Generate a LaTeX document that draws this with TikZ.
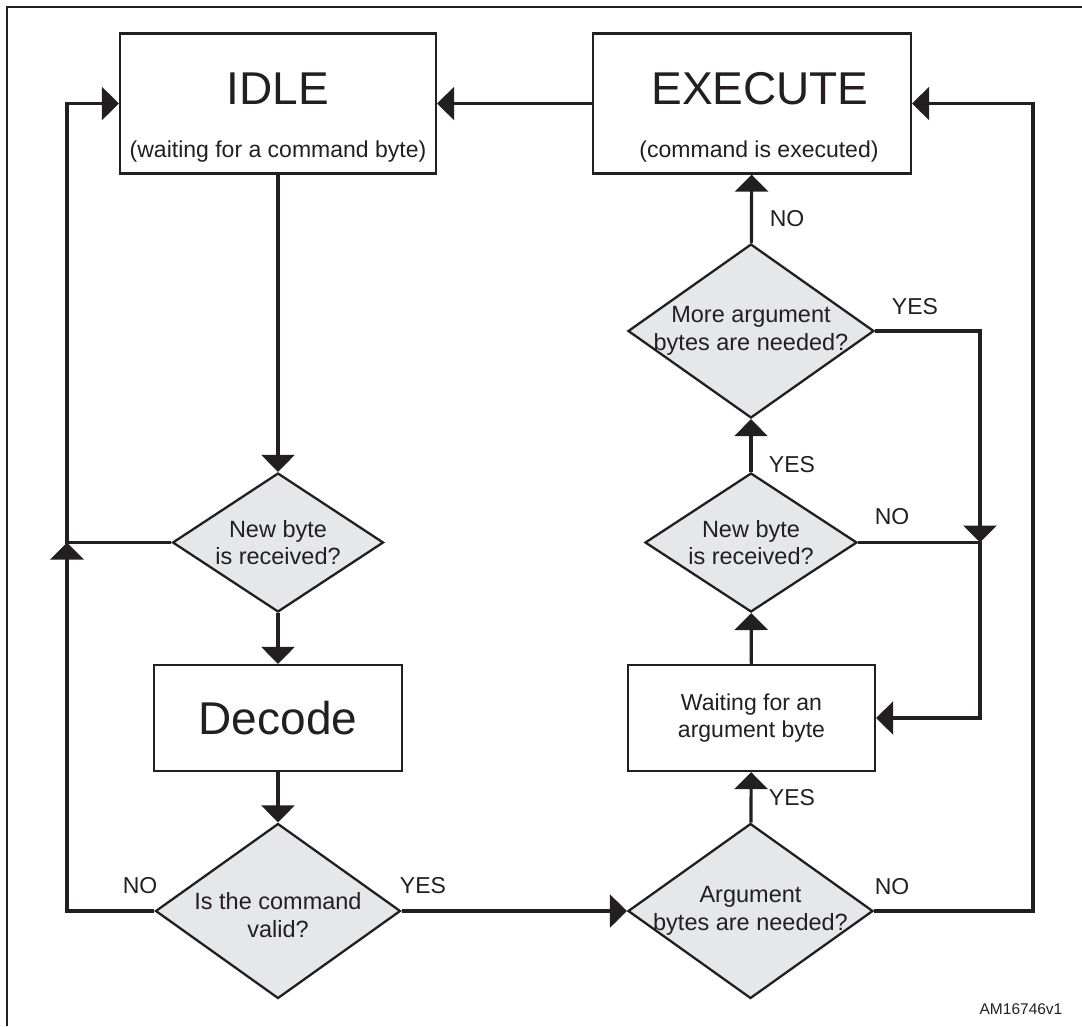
\documentclass[tikz,border=0pt]{standalone}
\usepackage{fontspec}
\setmainfont{Liberation Sans}
\usetikzlibrary{shapes.geometric,arrows.meta}

\definecolor{ink}{HTML}{231F20}
\definecolor{askfill}{HTML}{E6E7E8}

\begin{document}
\begin{tikzpicture}[x=1pt,y=-1pt,
  statebox/.style={draw=ink, line width=2.3pt, rectangle, inner sep=0pt, fill=white, text=ink},
  askbox/.style={draw=ink, line width=2.3pt, diamond, inner sep=0pt, fill=askfill},
  flow/.style={draw=ink, line width=3.2pt, -{Triangle[length=17pt,width=33pt]}},
  bigtext/.style={text=ink, font=\fontsize{46}{50}\selectfont, anchor=base},
  subtext/.style={text=ink, font=\fontsize{23}{27}\selectfont, anchor=base},
  asktext/.style={text=ink, font=\fontsize{23.5}{27.5}\selectfont, align=center},
  answer/.style={text=ink, font=\fontsize{23}{27}\selectfont}]

  \useasboundingbox (0,0) rectangle (1082,1026);

  % frame
  \draw[ink, line width=2.8pt] (7,1026) -- (7,7) -- (1082,7);

  % states
  \node[statebox, minimum width=316, minimum height=140] (idle) at (278,103.5) {};
  \node[bigtext] (idletitle) at (278,104) {IDLE};
  \node[subtext] (idlenote) at (278,157) {(waiting for a command byte)};

  \node[statebox, minimum width=318, minimum height=140] (execute) at (752,103.5) {};
  \node[bigtext] (exectitle) at (760,104) {EXECUTE};
  \node[subtext] (execnote) at (759,157) {(command is executed)};

  \node[statebox, minimum width=248, minimum height=106,
        font=\fontsize{46}{50}\selectfont] (decode) at (278,718) {Decode};
  \node[statebox, minimum width=247, minimum height=106, align=center,
        font=\fontsize{23}{27.5}\selectfont] (wait) at (751.5,718) {Waiting for an\\argument byte};

  % decisions
  \node[askbox, minimum width=211, minimum height=139] (new1) at (278,542.5) {};
  \node[asktext] at (new1) {New byte\\is received?};

  \node[askbox, minimum width=245, minimum height=175] (valid) at (278,911) {};
  \node[asktext] at ([yshift=-4pt]valid.center) {Is the command\\valid?};

  \node[askbox, minimum width=245, minimum height=175] (arg) at (750.5,911) {};
  \node[asktext] at (arg) {Argument\\bytes are needed?};

  \node[askbox, minimum width=212, minimum height=139] (new2) at (751,542.5) {};
  \node[asktext] at (new2) {New byte\\is received?};

  \node[askbox, minimum width=246, minimum height=174] (more) at (751,331) {};
  \node[asktext] at (more) {More argument\\bytes are needed?};

  % junctions
  \coordinate (jl) at (67,542.5);
  \coordinate (jn) at (980,542.5);
  \coordinate (jb) at (1033,911);

  % connectors
  \draw[flow] (execute) -- (idle);
  \draw[flow] (idle) -- (new1);
  \draw[flow] (new1) -- (decode);
  \draw[flow] (decode) -- (valid);
  \draw[flow] (valid.west) -| (jl);
  \draw[flow] (new1.west) -- (jl) |- (idle.west);
  \draw[flow] (valid.east) -- (arg.west);
  \draw[flow] (arg.east) -- (jb) |- (execute.east);
  \draw[flow] (arg) -- (wait);
  \draw[flow] (wait) -- (new2);
  \draw[flow] (new2) -- (more);
  \draw[flow] (more) -- (execute);
  \draw[flow] (more.east) -| (jn);
  \draw[flow] (new2.east) -- (jn) |- (wait.east);

  % answers
  \node[answer] at (140,886) {NO};
  \node[answer] at (423,886) {YES};
  \node[answer] at (892,887) {NO};
  \node[answer] at (792,798) {YES};
  \node[answer] at (792,465) {YES};
  \node[answer] at (892,517) {NO};
  \node[answer] at (915,307) {YES};
  \node[answer] at (787,219) {NO};

  \node[text=ink, font=\fontsize{15.5}{18}\selectfont, anchor=base] at (1021,1014) {AM16746v1};
\end{tikzpicture}
\end{document}
